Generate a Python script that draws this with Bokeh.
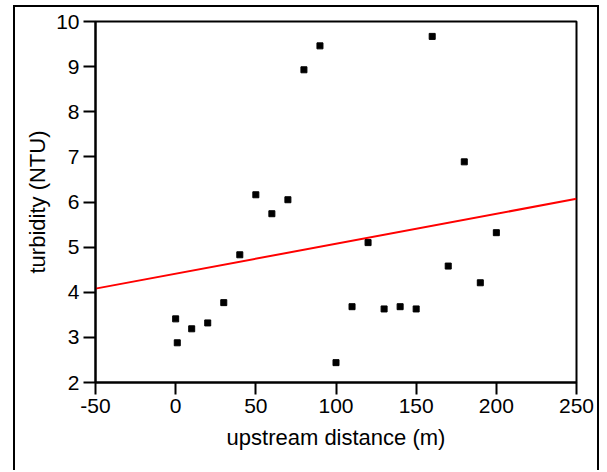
from bokeh.plotting import figure
from bokeh.models import Range1d, FixedTicker, ColumnDataSource, CustomJSTickFormatter
from bokeh.embed import file_html
from bokeh.resources import INLINE

# data
distance = [0, 1, 10, 20, 30, 40, 50, 60, 70, 80, 90, 100, 110, 120, 130,
            140, 150, 160, 170, 180, 190, 200]
turbidity = [3.41, 2.88, 3.19, 3.32, 3.77, 4.83, 6.16, 5.74, 6.05, 8.93, 9.46,
             2.44, 3.68, 5.10, 3.63, 3.68, 3.63, 9.67, 4.58, 6.89, 4.21, 5.32]
fit_x = [-50, 250]
fit_y = [4.08, 6.07]
x_ticks = [-50, 0, 50, 100, 150, 200, 250]
y_ticks = [2, 3, 4, 5, 6, 7, 8, 9, 10]

FONT = "Liberation Sans"

p = figure(width=586, height=465, output_backend="svg", toolbar_location=None,
           x_range=Range1d(-50, 250), y_range=Range1d(2, 10),
           min_border_left=80, min_border_right=25, min_border_top=14,
           min_border_bottom=90,
           styles={"margin-left": "13px", "margin-top": "5px",
                   "border-left": "2px solid black",
                   "border-top": "2px solid black",
                   "border-right": "2px solid black"})

p.grid.visible = False
p.outline_line_color = "black"
p.outline_line_width = 2
p.background_fill_color = "white"
p.border_fill_color = "white"

fmt = CustomJSTickFormatter(code="return String(tick);")
for ax in (p.xaxis[0], p.yaxis[0]):
    ax.axis_line_width = 2
    ax.axis_line_color = "black"
    ax.major_tick_line_width = 2
    ax.major_tick_line_color = "black"
    ax.major_tick_in = 0
    ax.major_tick_out = 12
    ax.minor_tick_line_color = None
    ax.formatter = fmt
    ax.major_label_text_font = FONT
    ax.major_label_text_font_size = "21px"
    ax.major_label_text_color = "black"
    ax.axis_label_text_font = FONT
    ax.axis_label_text_font_size = "22px"
    ax.axis_label_text_font_style = "normal"
    ax.axis_label_text_color = "black"
    ax.major_label_standoff = 4

p.xaxis[0].ticker = FixedTicker(ticks=x_ticks)
p.yaxis[0].ticker = FixedTicker(ticks=y_ticks)
p.xaxis[0].axis_label = "upstream distance (m)"
p.yaxis[0].axis_label = "turbidity (NTU)"
p.xaxis[0].axis_label_standoff = 9
p.yaxis[0].axis_label_standoff = 3

src = ColumnDataSource(dict(x=distance, y=turbidity))
p.line(fit_x, fit_y, line_color="#ff0000", line_width=2)
p.scatter("x", "y", source=src, marker="square", size=6,
          fill_color="black", line_color="black")

open("out.html", "w").write(file_html(p, INLINE))
